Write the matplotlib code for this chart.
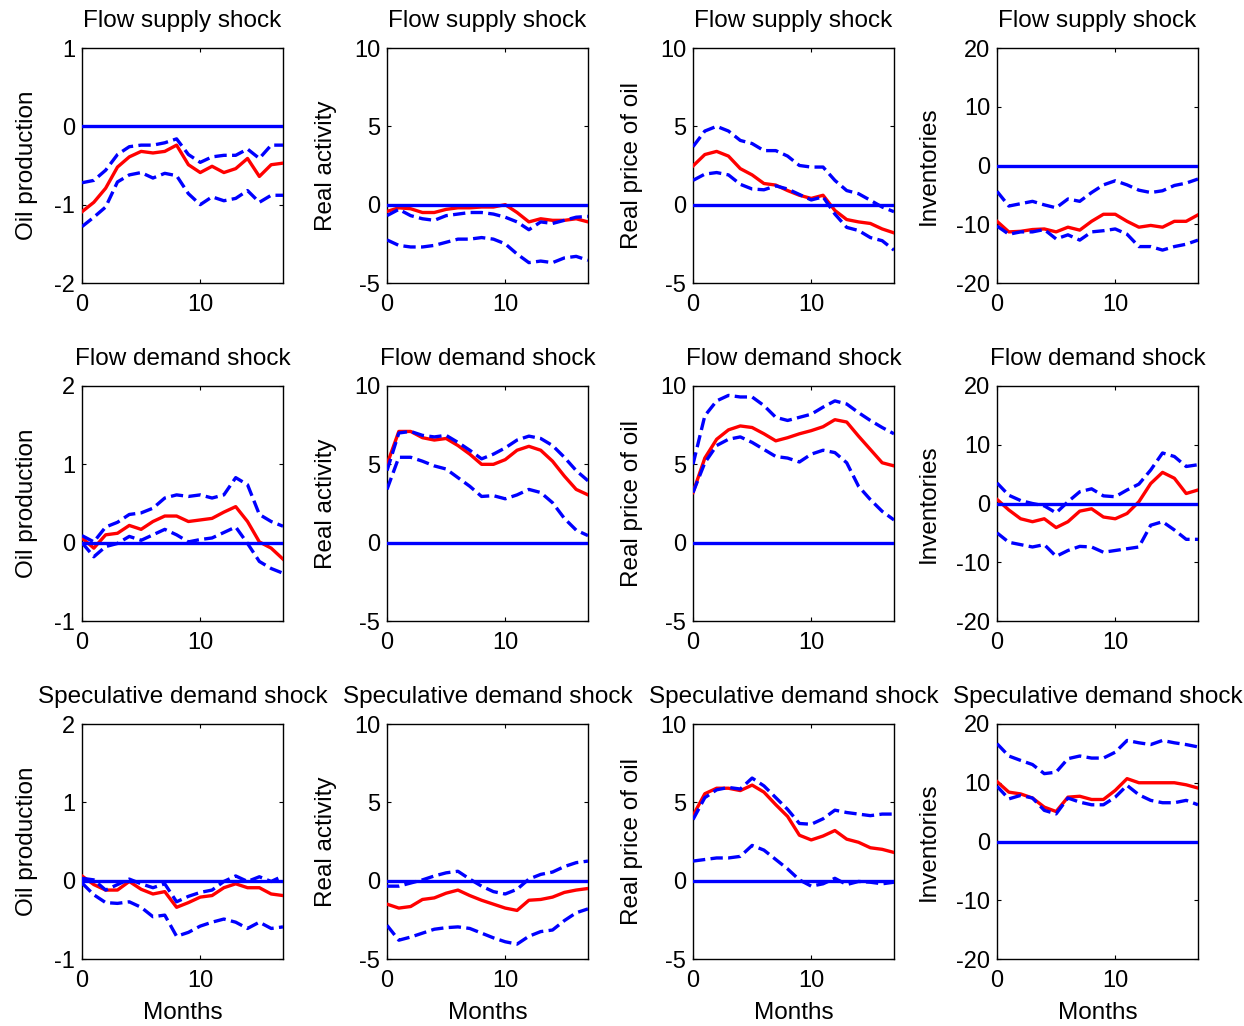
import matplotlib
matplotlib.use('Agg')
import matplotlib.pyplot as plt

plt.rcParams['font.family'] = ['Liberation Sans', 'DejaVu Sans']
plt.rcParams['axes.unicode_minus'] = False

months = list(range(18))
shocks = ['Flow supply shock', 'Flow demand shock', 'Speculative demand shock']
variables = ['Oil production', 'Real activity', 'Real price of oil', 'Inventories']
ylims = [(-2, 1), (-5, 10), (-5, 10), (-20, 20)]
ylims_row2 = [(-1, 2), (-5, 10), (-5, 10), (-20, 20)]
yticks = [[-2, -1, 0, 1], [-5, 0, 5, 10], [-5, 0, 5, 10], [-20, -10, 0, 10, 20]]
yticks_row2 = [[-1, 0, 1, 2], [-5, 0, 5, 10], [-5, 0, 5, 10], [-20, -10, 0, 10, 20]]

# Flow supply shock
supply_oil_med = [-1.09, -0.97, -0.79, -0.52, -0.39, -0.32, -0.34, -0.32, -0.24, -0.49, -0.59, -0.51, -0.59, -0.54, -0.41, -0.64, -0.49, -0.47]
supply_oil_hi = [-0.72, -0.69, -0.56, -0.36, -0.26, -0.24, -0.24, -0.21, -0.16, -0.36, -0.46, -0.39, -0.37, -0.37, -0.29, -0.41, -0.24, -0.24]
supply_oil_lo = [-1.28, -1.16, -1.03, -0.71, -0.62, -0.59, -0.66, -0.60, -0.63, -0.86, -1.00, -0.90, -0.95, -0.92, -0.82, -0.97, -0.88, -0.88]
supply_rea_med = [-0.43, -0.2, -0.26, -0.5, -0.5, -0.3, -0.2, -0.2, -0.15, -0.15, 0.0, -0.5, -1.1, -0.9, -1.0, -1.0, -0.9, -1.1]
supply_rea_hi = [-0.7, -0.3, -0.7, -0.9, -1.0, -0.7, -0.6, -0.5, -0.5, -0.6, -0.8, -1.1, -1.6, -1.1, -1.2, -1.0, -0.8, -0.75]
supply_rea_lo = [-2.25, -2.6, -2.7, -2.7, -2.6, -2.4, -2.2, -2.2, -2.1, -2.2, -2.5, -3.15, -3.7, -3.6, -3.7, -3.4, -3.3, -3.55]
supply_price_med = [2.47, 3.2, 3.4, 3.1, 2.3, 1.9, 1.35, 1.25, 0.9, 0.6, 0.4, 0.6, -0.37, -0.95, -1.1, -1.2, -1.55, -1.8]
supply_price_hi = [3.7, 4.7, 5.0, 4.7, 4.1, 3.9, 3.45, 3.45, 3.1, 2.5, 2.4, 2.4, 1.55, 0.9, 0.7, 0.28, -0.15, -0.45]
supply_price_lo = [1.55, 1.95, 2.05, 1.9, 1.3, 1.0, 0.95, 1.2, 1.0, 0.65, 0.3, 0.5, -0.6, -1.45, -1.65, -2.1, -2.3, -2.9]
supply_inv_med = [-9.5, -11.3, -11.2, -10.9, -10.8, -11.3, -10.5, -11.0, -9.5, -8.3, -8.3, -9.5, -10.5, -10.2, -10.5, -9.5, -9.5, -8.4]
supply_inv_hi = [-4.4, -6.9, -6.5, -6.1, -6.7, -7.2, -5.7, -6.1, -4.6, -3.3, -2.6, -3.3, -4.2, -4.6, -4.3, -3.4, -3.0, -2.3]
supply_inv_lo = [-10.3, -11.7, -11.3, -11.3, -10.9, -12.5, -11.8, -12.7, -11.3, -11.1, -10.8, -11.7, -13.8, -13.8, -14.4, -13.8, -13.4, -12.7]

# Flow demand shock
demand_oil_med = [0.06, -0.07, 0.1, 0.12, 0.22, 0.17, 0.27, 0.34, 0.34, 0.27, 0.29, 0.31, 0.39, 0.46, 0.27, 0.01, -0.07, -0.21]
demand_oil_hi = [0.09, 0.01, 0.2, 0.26, 0.36, 0.38, 0.44, 0.57, 0.61, 0.59, 0.61, 0.57, 0.61, 0.83, 0.74, 0.36, 0.27, 0.21]
demand_oil_lo = [0.0, -0.18, -0.05, -0.01, 0.08, 0.03, 0.1, 0.17, 0.1, 0.01, 0.04, 0.06, 0.13, 0.2, -0.01, -0.24, -0.33, -0.39]
demand_rea_med = [5.0, 7.1, 7.1, 6.7, 6.55, 6.65, 6.2, 5.65, 5.0, 5.0, 5.3, 5.9, 6.15, 5.9, 5.2, 4.25, 3.4, 3.05]
demand_rea_hi = [4.6, 7.0, 7.1, 6.85, 6.75, 6.85, 6.4, 5.9, 5.35, 5.65, 6.05, 6.55, 6.8, 6.65, 6.2, 5.45, 4.6, 3.95]
demand_rea_lo = [3.4, 5.45, 5.45, 5.2, 4.9, 4.7, 4.15, 3.6, 2.95, 3.0, 2.8, 3.05, 3.4, 3.2, 2.55, 1.55, 0.8, 0.45]
demand_price_med = [3.2, 5.4, 6.6, 7.2, 7.45, 7.35, 6.95, 6.5, 6.7, 6.95, 7.15, 7.4, 7.85, 7.7, 6.8, 5.95, 5.1, 4.9]
demand_price_hi = [5.0, 8.1, 9.05, 9.4, 9.3, 9.3, 8.75, 8.0, 7.8, 8.0, 8.2, 8.65, 9.05, 8.85, 8.3, 7.8, 7.35, 6.95]
demand_price_lo = [3.2, 5.1, 6.2, 6.6, 6.75, 6.4, 5.95, 5.5, 5.4, 5.15, 5.65, 5.9, 5.75, 5.1, 3.6, 2.75, 2.0, 1.45]
demand_inv_med = [0.7, -1.1, -2.6, -3.1, -2.6, -4.1, -3.1, -1.3, -0.9, -2.3, -2.6, -1.7, 0.3, 3.4, 5.3, 4.3, 1.7, 2.3]
demand_inv_hi = [3.5, 1.4, 0.5, 0.0, -0.4, -1.6, 0.3, 2.0, 2.5, 1.3, 1.15, 2.3, 3.3, 5.7, 8.6, 8.0, 6.3, 6.6]
demand_inv_lo = [-5.0, -6.6, -7.0, -7.4, -7.0, -9.0, -8.0, -7.3, -7.4, -8.3, -8.0, -7.7, -7.4, -3.7, -3.1, -4.5, -6.1, -6.1]

# Speculative demand shock
spec_oil_med = [0.06, -0.05, -0.12, -0.12, -0.01, -0.11, -0.17, -0.14, -0.34, -0.28, -0.21, -0.19, -0.09, -0.04, -0.09, -0.09, -0.17, -0.19]
spec_oil_hi = [0.03, 0.01, -0.12, -0.05, 0.02, -0.04, -0.09, -0.04, -0.27, -0.2, -0.15, -0.12, -0.01, 0.06, -0.01, 0.05, -0.01, 0.06]
spec_oil_lo = [-0.03, -0.18, -0.28, -0.29, -0.27, -0.34, -0.46, -0.44, -0.71, -0.66, -0.58, -0.53, -0.49, -0.53, -0.61, -0.53, -0.61, -0.59]
spec_rea_med = [-1.5, -1.75, -1.65, -1.2, -1.1, -0.8, -0.6, -0.95, -1.25, -1.5, -1.75, -1.9, -1.25, -1.2, -1.05, -0.75, -0.6, -0.5]
spec_rea_hi = [-0.35, -0.35, -0.15, 0.05, 0.3, 0.5, 0.6, 0.1, -0.35, -0.7, -0.85, -0.55, 0.1, 0.4, 0.55, 0.9, 1.15, 1.25]
spec_rea_lo = [-2.85, -3.8, -3.6, -3.35, -3.1, -3.0, -2.95, -3.05, -3.35, -3.65, -3.9, -4.05, -3.55, -3.25, -3.15, -2.55, -2.05, -1.8]
spec_price_med = [4.15, 5.55, 5.9, 5.9, 5.75, 6.1, 5.65, 4.85, 4.1, 2.9, 2.6, 2.85, 3.2, 2.65, 2.45, 2.1, 2.0, 1.8]
spec_price_hi = [3.9, 5.3, 5.8, 5.95, 5.85, 6.55, 6.05, 5.3, 4.55, 3.65, 3.6, 3.95, 4.5, 4.35, 4.25, 4.15, 4.25, 4.25]
spec_price_lo = [1.25, 1.35, 1.45, 1.45, 1.55, 2.25, 1.95, 1.35, 0.75, 0.05, -0.35, -0.2, 0.15, -0.25, -0.05, -0.1, -0.2, -0.1]
spec_inv_med = [10.2, 8.4, 8.1, 7.4, 5.85, 5.1, 7.55, 7.7, 7.15, 7.15, 8.7, 10.7, 10.0, 10.0, 10.0, 10.0, 9.65, 9.1]
spec_inv_hi = [16.65, 14.55, 13.8, 13.1, 11.55, 11.8, 14.1, 14.55, 14.2, 14.2, 15.2, 17.2, 16.8, 16.5, 17.2, 16.8, 16.5, 16.1]
spec_inv_lo = [9.4, 7.25, 7.85, 7.4, 5.3, 4.7, 7.4, 6.7, 6.25, 6.25, 7.55, 9.55, 7.95, 7.0, 6.6, 6.6, 7.0, 6.25]

rows = [
    [(supply_oil_med, supply_oil_lo, supply_oil_hi), (supply_rea_med, supply_rea_lo, supply_rea_hi),
     (supply_price_med, supply_price_lo, supply_price_hi), (supply_inv_med, supply_inv_lo, supply_inv_hi)],
    [(demand_oil_med, demand_oil_lo, demand_oil_hi), (demand_rea_med, demand_rea_lo, demand_rea_hi),
     (demand_price_med, demand_price_lo, demand_price_hi), (demand_inv_med, demand_inv_lo, demand_inv_hi)],
    [(spec_oil_med, spec_oil_lo, spec_oil_hi), (spec_rea_med, spec_rea_lo, spec_rea_hi),
     (spec_price_med, spec_price_lo, spec_price_hi), (spec_inv_med, spec_inv_lo, spec_inv_hi)],
]

fig = plt.figure(figsize=(12.44, 10.26), dpi=100)

# axes boxes in pixels, as in the reference
col_left = [82, 387, 693, 997]
row_top = [48, 386, 724]
ax_w, ax_h = 201, 235
W, H = 1244, 1026

for r in range(3):
    for c in range(4):
        left = col_left[c] / W
        bottom = 1 - (row_top[r] + ax_h) / H
        ax = fig.add_axes([left, bottom, ax_w / W, ax_h / H])
        med, lo, hi = rows[r][c]
        ax.plot(months, med, color='red', lw=2.4, zorder=3)
        ax.plot(months, hi, color='blue', lw=2.4, ls='--', zorder=4)
        ax.plot(months, lo, color='blue', lw=2.4, ls='--', zorder=4)
        ax.axhline(0, color='blue', lw=2.4, zorder=5)
        ax.set_xlim(0, 17)
        if r == 0:
            ax.set_ylim(*ylims[c])
            ax.set_yticks(yticks[c])
        else:
            ax.set_ylim(*ylims_row2[c])
            ax.set_yticks(yticks_row2[c])
        ax.set_xticks([0, 10])
        ax.tick_params(direction='in', top=True, right=True, labelsize=17, length=3, width=0.8)
        ax.tick_params(axis='x', pad=8)
        ax.tick_params(axis='y', pad=5)
        ax.set_title(shocks[r], fontsize=17.5, pad=15)
        ax.set_ylabel(variables[c], fontsize=17.5, labelpad=12)
        if r == 2:
            ax.set_xlabel('Months', fontsize=17.5, labelpad=7)
        for s in ax.spines.values():
            s.set_linewidth(1.0)

plt.savefig('out.png', dpi=100)
plt.close()
